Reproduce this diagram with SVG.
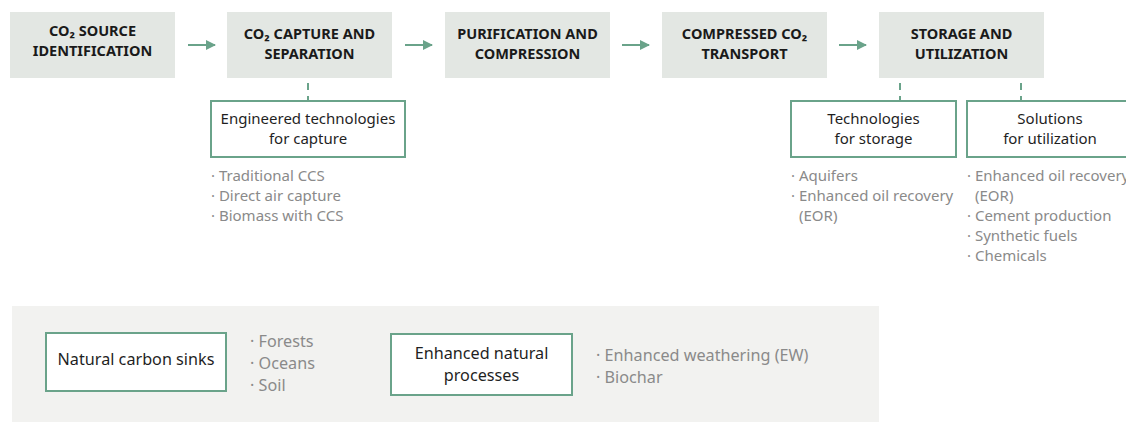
<svg xmlns="http://www.w3.org/2000/svg" width="1126" height="422" viewBox="0 0 1126 422">
  <defs>
    <marker id="arrow" viewBox="0 0 10 10" refX="9" refY="5" markerWidth="10" markerHeight="10" markerUnits="userSpaceOnUse" orient="auto">
      <path d="M0,0 L10,5 L0,10 z" fill="#6aa38a"/>
    </marker>
    <style>
      text { font-family: "Noto Sans", "Liberation Sans", sans-serif; }
      .stage { fill: #e3e7e3; }
      .stage-label { font-size: 14.5px; font-weight: bold; fill: #1a1a1a; text-anchor: middle; }
      .sub { fill: #ffffff; stroke: #6aa38a; stroke-width: 2; }
      .sub-label { font-size: 15px; fill: #1f1f1f; text-anchor: middle; }
      .item { font-size: 15px; fill: #8a8a8a; }
      .nat-label { font-size: 16.2px; fill: #1f1f1f; text-anchor: middle; }
      .nat-item { font-size: 16.2px; fill: #8a8a8a; }
      .flow { stroke: #6aa38a; stroke-width: 2; fill: none; marker-end: url(#arrow); }
      .link { stroke: #6aa38a; stroke-width: 2; fill: none; stroke-dasharray: 7 6; }
    </style>
  </defs>

  <!-- process stages -->
  <g id="stage-source">
    <rect class="stage" x="10" y="12" width="165" height="66"/>
    <text class="stage-label" x="92.5" y="36">CO₂ SOURCE</text>
    <text class="stage-label" x="92.5" y="56">IDENTIFICATION</text>
  </g>
  <g id="stage-capture">
    <rect class="stage" x="227" y="12" width="165" height="66"/>
    <text class="stage-label" x="309.5" y="39">CO₂ CAPTURE AND</text>
    <text class="stage-label" x="309.5" y="59">SEPARATION</text>
  </g>
  <g id="stage-purification">
    <rect class="stage" x="445" y="12" width="165" height="66"/>
    <text class="stage-label" x="527.5" y="39">PURIFICATION AND</text>
    <text class="stage-label" x="527.5" y="59">COMPRESSION</text>
  </g>
  <g id="stage-transport">
    <rect class="stage" x="662" y="12" width="165" height="66"/>
    <text class="stage-label" x="744.5" y="39">COMPRESSED CO₂</text>
    <text class="stage-label" x="744.5" y="59">TRANSPORT</text>
  </g>
  <g id="stage-storage">
    <rect class="stage" x="879" y="12" width="165" height="66"/>
    <text class="stage-label" x="961.5" y="39">STORAGE AND</text>
    <text class="stage-label" x="961.5" y="59">UTILIZATION</text>
  </g>

  <!-- detail boxes -->
  <g id="capture-tech">
    <rect class="sub" x="211" y="101" width="194" height="56"/>
    <text class="sub-label" x="308" y="124">Engineered technologies</text>
    <text class="sub-label" x="308" y="144">for capture</text>
    <text class="item" x="211" y="181">· Traditional CCS</text>
    <text class="item" x="211" y="201">· Direct air capture</text>
    <text class="item" x="211" y="221">· Biomass with CCS</text>
  </g>
  <g id="storage-tech">
    <rect class="sub" x="791" y="101" width="165" height="56"/>
    <text class="sub-label" x="873.5" y="124">Technologies</text>
    <text class="sub-label" x="873.5" y="144">for storage</text>
    <text class="item" x="791" y="181">· Aquifers</text>
    <text class="item" x="791" y="201">· Enhanced oil recovery</text>
    <text class="item" x="799" y="221">(EOR)</text>
  </g>
  <g id="utilization">
    <rect class="sub" x="967" y="101" width="168" height="56"/>
    <text class="sub-label" x="1050" y="124">Solutions</text>
    <text class="sub-label" x="1050" y="144">for utilization</text>
    <text class="item" x="967" y="181">· Enhanced oil recovery</text>
    <text class="item" x="975" y="201">(EOR)</text>
    <text class="item" x="967" y="221">· Cement production</text>
    <text class="item" x="967" y="241">· Synthetic fuels</text>
    <text class="item" x="967" y="261">· Chemicals</text>
  </g>

  <!-- natural pathways -->
  <g id="natural-panel">
    <rect x="12" y="306" width="867" height="116" fill="#f2f2f0"/>
  </g>
  <g id="natural-sinks">
    <rect class="sub" x="46" y="333" width="180" height="58"/>
    <text class="nat-label" x="136" y="365">Natural carbon sinks</text>
    <text class="nat-item" x="250" y="347">· Forests</text>
    <text class="nat-item" x="250" y="369">· Oceans</text>
    <text class="nat-item" x="250" y="391">· Soil</text>
  </g>
  <g id="enhanced-natural">
    <rect class="sub" x="391" y="334" width="181" height="61"/>
    <text class="nat-label" x="481.5" y="359">Enhanced natural</text>
    <text class="nat-label" x="481.5" y="381">processes</text>
    <text class="nat-item" x="596" y="361">· Enhanced weathering (EW)</text>
    <text class="nat-item" x="596" y="383">· Biochar</text>
  </g>

  <!-- connectors -->
  <g id="connectors">
    <line class="flow" x1="188" y1="45" x2="215" y2="45"/>
    <line class="flow" x1="405" y1="45" x2="432" y2="45"/>
    <line class="flow" x1="622" y1="45" x2="649" y2="45"/>
    <line class="flow" x1="839" y1="45" x2="866" y2="45"/>
    <line class="link" x1="308" y1="83" x2="308" y2="100"/>
    <line class="link" x1="900" y1="83" x2="900" y2="100"/>
    <line class="link" x1="1021" y1="83" x2="1021" y2="100"/>
  </g>
</svg>
